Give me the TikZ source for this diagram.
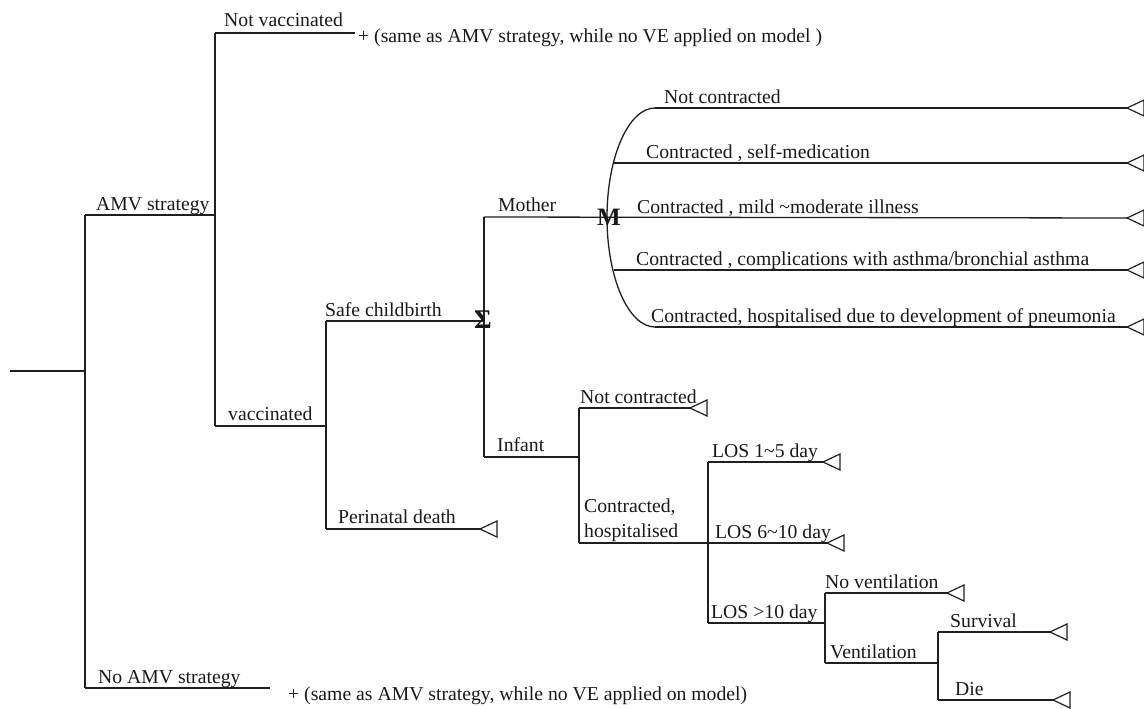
\documentclass[tikz,border=0pt]{standalone}
\usepackage{fontspec}
\setmainfont{Liberation Serif}
\begin{document}
\begin{tikzpicture}[x=1pt,y=-1pt,
  br/.style={line width=1.3pt,draw=black!88},
  lbl/.style={anchor=base west,inner sep=0pt,text=black!90,font=\fontsize{19.7}{25}\selectfont},
  sym/.style={inner sep=0pt,text=black!90,font=\fontsize{25}{25}\selectfont\bfseries},
  term/.pic={\draw[line width=1.2pt,draw=black!88] (0,0) -- (17,-8) -- (17,8) -- cycle;}]
\useasboundingbox (0,0) rectangle (1144,709);
% coordinates
\coordinate (r0) at (10,371);
\coordinate (r) at (85,371);
\coordinate (amv) at (85,215);
\coordinate (amvE) at (215,215);
\coordinate (noamv) at (85,688);
\coordinate (noamvE) at (270,688);
\coordinate (nv) at (215,33);
\coordinate (nvE) at (355,33);
\coordinate (vac) at (215,426);
\coordinate (vacE) at (326,426);
\coordinate (safe) at (326,321);
\coordinate (safeE) at (484,321);
\coordinate (peri) at (326,529);
\coordinate (periE) at (480,529);
\coordinate (mother) at (484,217);
\coordinate (infant) at (484,457);
\coordinate (infE) at (579,457);
\coordinate (nc) at (579,408);
\coordinate (ncE) at (690,408);
\coordinate (ch) at (579,543);
\coordinate (chE) at (708,543);
\coordinate (los1) at (708,462);
\coordinate (los1E) at (823,462);
\coordinate (los2E) at (827,543);
\coordinate (los3) at (708,623);
\coordinate (los3E) at (825,623);
\coordinate (nov) at (825,593);
\coordinate (novE) at (947,593);
\coordinate (vent) at (825,663);
\coordinate (ventE) at (938,663);
\coordinate (surv) at (938,632);
\coordinate (survE) at (1050,632);
\coordinate (die) at (938,700);
\coordinate (dieE) at (1053,700);
% M branch
\coordinate (m1) at (655,108);
\coordinate (m2) at (614,163);
\coordinate (m4) at (614,270);
\coordinate (m5) at (655,327);
\coordinate (m1E) at (1127,108);
\coordinate (m2E) at (1127,163);
\coordinate (m3E) at (1127,218);
\coordinate (m4E) at (1127,270);
\coordinate (m5E) at (1127,327);
\coordinate (mL) at (607,217.5);

% tree lines
\draw[br] (r0) -- (r);
\draw[br] (amv) -- (noamv);
\draw[br] (amv) -- (amvE);
\draw[br] (noamv) -- (noamvE);
\draw[br] (nv) -- (vac);
\draw[br] (nv) -- (nvE);
\draw[br] (vac) -- (vacE);
\draw[br] (safe) -- (peri);
\draw[br] (safe) -- (safeE);
\draw[br] (peri) -- (periE);
\draw[br] (mother) -- (infant);
\draw[br] (infant) -- (infE);
\draw[br] (nc) -- (ch);
\draw[br] (nc) -- (ncE);
\draw[br] (ch) -- (chE);
\draw[br] (los1) -- (los3);
\draw[br] (los1) -- (los1E);
\draw[br] (chE) -- (los2E);
\draw[br] (los3) -- (los3E);
\draw[br] (nov) -- (vent);
\draw[br] (nov) -- (novE);
\draw[br] (vent) -- (ventE);
\draw[br] (surv) -- (die);
\draw[br] (surv) -- (survE);
\draw[br] (die) -- (dieE);
% M bracket
\draw[br] (m1) .. controls (628.5,108) and (607,157) .. (mL)
          .. controls (607,278) and (628.5,327) .. (m5);
\draw[br] (m1) -- (m1E);
\draw[br] (m2) -- (m2E);
\draw[br] (mother) -- (m3E);
\draw[br] (m4) -- (m4E);
\draw[br] (m5) -- (m5E);

% terminal triangles
\pic at (periE) {term};
\pic at (ncE) {term};
\pic at (los1E) {term};
\pic at (los2E) {term};
\pic at (novE) {term};
\pic at (survE) {term};
\pic at (dieE) {term};
\pic at (m1E) {term};
\pic at (m2E) {term};
\pic at (m3E) {term};
\pic at (m4E) {term};
\pic at (m5E) {term};

% symbols
\node[sym,font=\fontsize{27}{27}\selectfont\bfseries] (sigma) at (483,320) {Σ};
\node[sym] (Mnode) at (609,217) {M};

% labels
\node[lbl] (lAMV) at (96,210) {AMV strategy};
\node[lbl] (lNV) at (224,27) {Not vaccinated};
\node[lbl] (lNVp) at (358,43) {+ (same as AMV strategy, while no VE applied on model )};
\node[lbl] (lVac) at (228,420) {vaccinated};
\node[lbl] (lSafe) at (325,316) {Safe childbirth};
\node[lbl] (lPeri) at (338,523) {Perinatal death};
\node[lbl] (lMother) at (498,211) {Mother};
\node[lbl] (lInfant) at (497,451) {Infant};
\node[lbl] (lNC) at (580,403) {Not contracted};
\node[lbl,anchor=south west,align=left] (lCH) at (584,542) {Contracted,\\hospitalised};
\node[lbl] (lL1) at (712,457) {LOS 1\textasciitilde5 day};
\node[lbl] (lL2) at (715,538) {LOS 6\textasciitilde10 day};
\node[lbl] (lL3) at (711,618) {LOS {>}10 day};
\node[lbl] (lNoV) at (825,588) {No ventilation};
\node[lbl] (lVent) at (830,658) {Ventilation};
\node[lbl] (lSurv) at (950,627) {Survival};
\node[lbl] (lDie) at (955,695) {Die};
\node[lbl] (lNoAMV) at (98,683) {No AMV strategy};
\node[lbl] (lNoAMVp) at (288,700) {+ (same as AMV strategy, while no VE applied on model)};
\node[lbl] (lM1) at (664,103) {Not contracted};
\node[lbl] (lM2) at (646,158) {Contracted , self-medication};
\node[lbl] (lM3) at (637,213) {Contracted , mild \textasciitilde moderate illness};
\node[lbl] (lM4) at (636,265) {Contracted , complications with asthma/bronchial asthma};
\node[lbl] (lM5) at (651,322) {Contracted, hospitalised due to development of pneumonia};
\end{tikzpicture}
\end{document}
